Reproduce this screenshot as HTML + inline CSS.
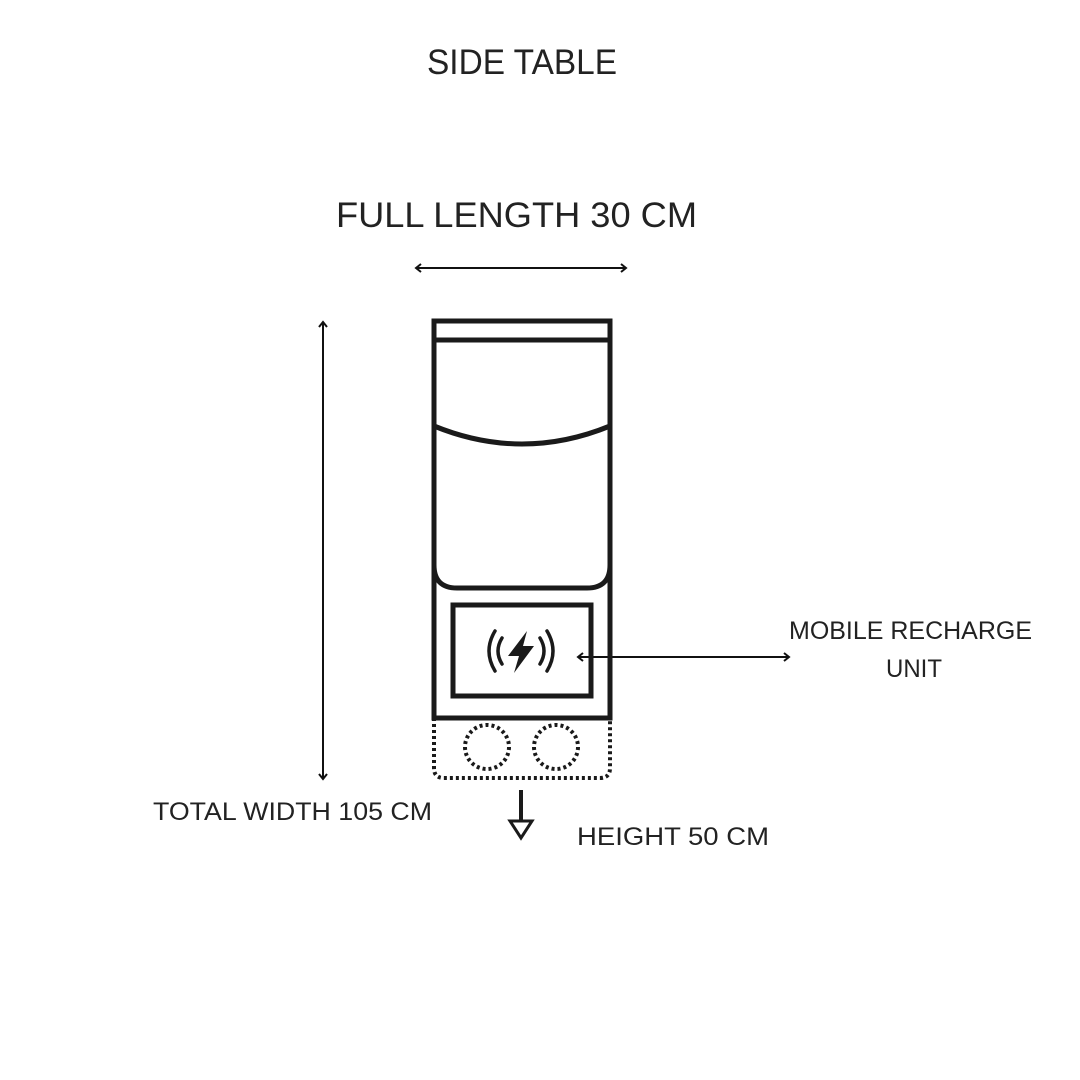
<!DOCTYPE html>
<html><head><style>body{margin:0;background:#fff}svg{display:block}</style></head>
<body>
<svg width="1080" height="1080" viewBox="0 0 1080 1080" xmlns="http://www.w3.org/2000/svg" font-family="Liberation Sans, sans-serif" fill="#222">
<rect width="1080" height="1080" fill="#fff"/>
<text x="427" y="74" font-size="35" textLength="190" lengthAdjust="spacingAndGlyphs">SIDE TABLE</text>
<text x="336" y="227" font-size="35" textLength="361" lengthAdjust="spacingAndGlyphs">FULL LENGTH  30 CM</text>
<text x="153" y="820" font-size="25" textLength="279" lengthAdjust="spacingAndGlyphs">TOTAL WIDTH 105 CM</text>
<text x="789" y="639" font-size="25" textLength="243" lengthAdjust="spacingAndGlyphs">MOBILE RECHARGE</text>
<text x="886" y="677" font-size="25" textLength="56" lengthAdjust="spacingAndGlyphs">UNIT</text>
<text x="577" y="845" font-size="25" textLength="192" lengthAdjust="spacingAndGlyphs">HEIGHT 50 CM</text>
<g stroke="#111" fill="none" stroke-width="2">
<line x1="416" y1="268" x2="626" y2="268"/>
<polyline points="421,264 416,268 421,272"/><polyline points="621,264 626,268 621,272"/>
<line x1="323" y1="322" x2="323" y2="779"/>
<polyline points="319,327 323,322 327,327"/><polyline points="319,774 323,779 327,774"/>
<line x1="578" y1="657" x2="789" y2="657"/>
<polyline points="583,653 578,657 583,661"/><polyline points="784,653 789,657 784,661"/>
</g>
<g stroke="#1a1a1a" fill="none" stroke-width="5">
<rect x="434" y="321" width="176" height="397"/>
<line x1="434" y1="340" x2="610" y2="340"/>
<path d="M434,426 Q522,462 610,426"/>
<path d="M434,565 Q434,588 457,588 L587,588 Q610,588 610,565"/>
<rect x="453" y="605" width="138" height="91"/>
</g>
<g stroke="#1a1a1a" fill="none" stroke-width="4" stroke-dasharray="3 3">
<path d="M434,718 L434,768 Q434,778 444,778 L600,778 Q610,778 610,768 L610,718"/>
<circle cx="487" cy="747" r="22"/>
<circle cx="556" cy="747" r="22"/>
</g>
<g stroke="#1a1a1a" fill="none" stroke-width="3.5" stroke-linecap="round">
<path d="M502,638 Q494,651 502,664"/>
<path d="M495,631 Q483,651 495,671"/>
<path d="M540,638 Q548,651 540,664"/>
<path d="M547,631 Q559,651 547,671"/>
</g>
<path d="M527,631 L508,656 L519,656 L514,673 L534,646 L523,646 Z" fill="#1a1a1a"/>
<g stroke="#1a1a1a" fill="none" stroke-width="4">
<line x1="521" y1="790" x2="521" y2="820"/>
<path d="M510,821 L532,821 L521,838 Z" stroke-width="3"/>
</g>
</svg>
</body></html>
